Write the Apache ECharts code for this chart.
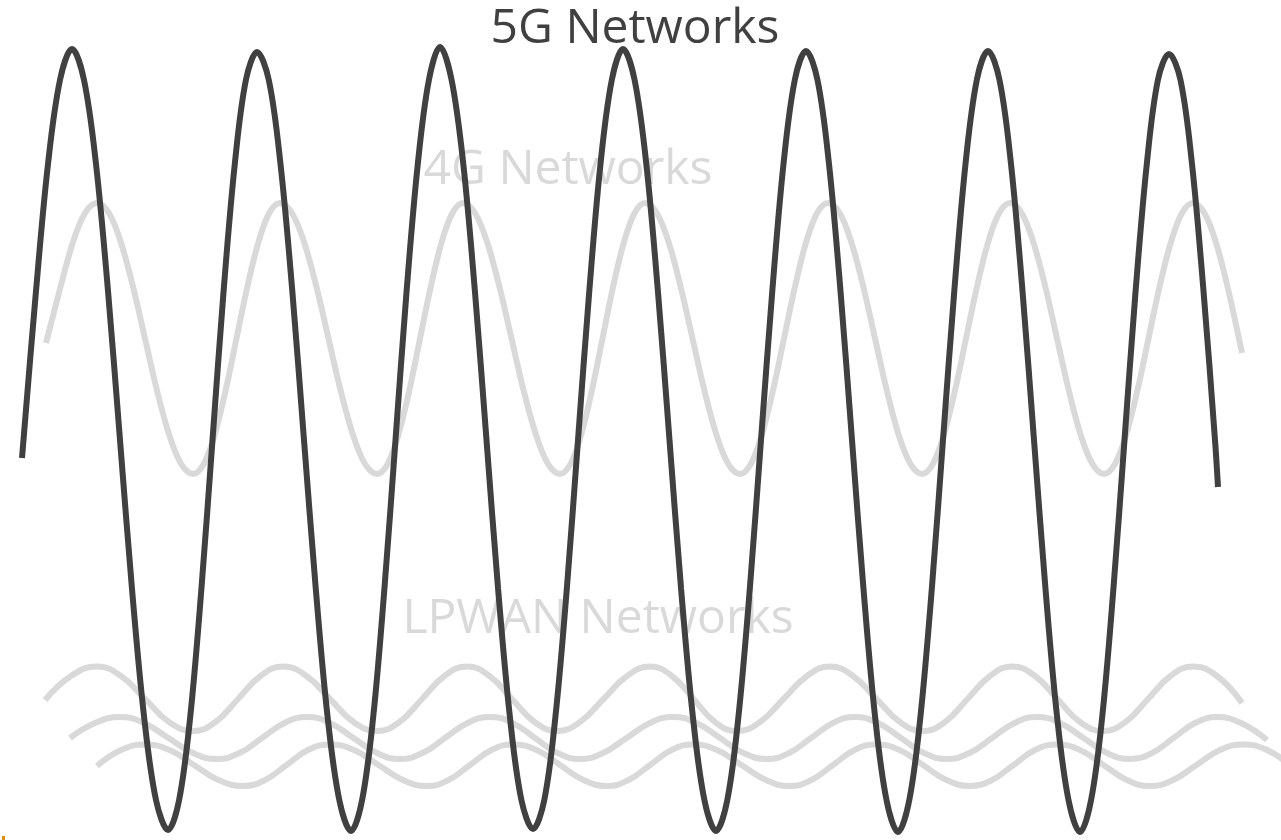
<!DOCTYPE html>
<html>
<head>
<meta charset="utf-8">
<script src="https://cdn.jsdelivr.net/npm/echarts@6/dist/echarts.min.js"></script>
<style>
  html, body { margin: 0; padding: 0; background: #ffffff; }
  #chart { width: 1281px; height: 840px; }
</style>
</head>
<body>
<div id="chart"></div>
<script>
// ---- Data (time units, signal level) ----
const labels = ['5G Networks', '4G Networks', 'LPWAN Networks'];

const time5G = [22, 36, 48, 60, 72,
  84, 96, 108, 120, 132, 144, 156, 168,
  179.1, 190.3, 201.4, 212.5, 223.6, 234.8, 245.9, 257,
  268.8, 280.5, 292.3, 304, 315.8, 327.5, 339.3, 351,
  362.1, 373.3, 384.4, 395.5, 406.6, 417.8, 428.9, 440,
  451.6, 463.3, 474.9, 486.5, 498.1, 509.8, 521.4, 533,
  544.3, 555.5, 566.8, 578, 589.3, 600.5, 611.8, 623,
  634.6, 646.3, 657.9, 669.5, 681.1, 692.8, 704.4, 716,
  727.3, 738.5, 749.8, 761, 772.3, 783.5, 794.8, 806,
  817.5, 829, 840.5, 852, 863.5, 875, 886.5, 898,
  909.3, 920.5, 931.8, 943, 954.3, 965.5, 976.8, 988,
  999.5, 1011, 1022.5, 1034, 1045.5, 1057, 1068.5, 1080,
  1091.1, 1102.3, 1113.4, 1124.5, 1135.6, 1146.8, 1157.9, 1169,
  1180.5, 1192, 1203.5, 1215, 1218];
const level5G = [-18, 149, 276, 360, 391,
  360, 276, 149, 0, -149, -276, -360, -390,
  -360, -276, -149, 0, 149, 276, 360, 388,
  360, 276, 149, 0, -149, -276, -360, -391,
  -360, -276, -149, 0, 149, 276, 360, 393,
  360, 276, 149, 0, -149, -276, -360, -389,
  -360, -276, -149, 0, 149, 276, 360, 391,
  360, 276, 149, 0, -149, -276, -360, -391,
  -360, -276, -149, 0, 149, 276, 360, 389,
  360, 276, 149, 0, -149, -276, -360, -392,
  -360, -276, -149, 0, 149, 276, 360, 389,
  360, 276, 149, 0, -149, -276, -360, -392,
  -360, -276, -149, 0, 149, 276, 360, 386,
  360, 276, 149, 0, -47];

const time4G = [46, 60.6, 72.8, 84.9, 97,
  109, 121, 133, 145, 157, 169, 181, 193,
  203.9, 214.8, 225.6, 236.5, 247.4, 258.3, 269.1, 280,
  292.1, 304.3, 316.4, 328.5, 340.6, 352.8, 364.9, 377,
  387.8, 398.5, 409.3, 420, 430.8, 441.5, 452.3, 463,
  475.1, 487.3, 499.4, 511.5, 523.6, 535.8, 547.9, 560,
  570.6, 581.3, 591.9, 602.5, 613.1, 623.8, 634.4, 645,
  656.9, 668.8, 680.6, 692.5, 704.4, 716.3, 728.1, 740,
  751, 762, 773, 784, 795, 806, 817, 828,
  839.8, 851.5, 863.3, 875, 886.8, 898.5, 910.3, 922,
  933, 944, 955, 966, 977, 988, 999, 1010,
  1021.8, 1033.5, 1045.3, 1057, 1068.8, 1080.5, 1092.3, 1104,
  1115.1, 1126.3, 1137.4, 1148.5, 1159.6, 1170.8, 1181.9, 1193,
  1204.5, 1216, 1227.5, 1239, 1242];
const level4G = [97, 153.4, 197.3, 226.7, 237,
  226.7, 197.3, 153.4, 101.5, 49.6, 5.7, -23.7, -34,
  -23.7, 5.7, 49.6, 101.5, 153.4, 197.3, 226.7, 237,
  226.7, 197.3, 153.4, 101.5, 49.6, 5.7, -23.7, -34,
  -23.7, 5.7, 49.6, 101.5, 153.4, 197.3, 226.7, 237,
  226.7, 197.3, 153.4, 101.5, 49.6, 5.7, -23.7, -34,
  -23.7, 5.7, 49.6, 101.5, 153.4, 197.3, 226.7, 237,
  226.7, 197.3, 153.4, 101.5, 49.6, 5.7, -23.7, -34,
  -23.7, 5.7, 49.6, 101.5, 153.4, 197.3, 226.7, 237,
  226.7, 197.3, 153.4, 101.5, 49.6, 5.7, -23.7, -34,
  -23.7, 5.7, 49.6, 101.5, 153.4, 197.3, 226.7, 237,
  226.7, 197.3, 153.4, 101.5, 49.6, 5.7, -23.7, -34,
  -23.7, 5.7, 49.6, 101.5, 153.4, 197.3, 226.7, 237,
  226.7, 197.3, 153.4, 101.5, 87];

const timeLpwanA = [45, 71, 97,
  121, 145, 169, 193,  215.5, 238, 260.5, 283,  306.5, 330, 353.5, 377,
  399.5, 422, 444.5, 467,  489.5, 512, 534.5, 557,  580, 603.5, 627, 650,
  672, 693.5, 715, 737,  760, 783.5, 807, 830,  853, 876.5, 900, 923,
  945, 967.5, 990, 1012,  1035, 1057.5, 1080, 1103,  1125.5, 1148, 1170.5, 1193,
  1217, 1242];
const levelLpwanA = [-260, -236, -226.5,
  -236, -259, -282, -291,  -282, -259, -236, -226.5,  -236, -259, -282, -291,
  -282, -259, -236, -226.5,  -236, -259, -282, -291,  -282, -259, -236, -226.5,
  -236, -259, -282, -291,  -282, -259, -236, -226.5,  -236, -259, -282, -291,
  -282, -259, -236, -226.5,  -236, -259, -282, -291,  -282, -259, -236, -226.5,
  -236, -263];

const timeLpwanB = [70, 95, 120,
  144, 168.5, 193, 217,  239.5, 262, 284.5, 307,  330, 353.5, 377, 400,
  422.5, 445, 467.5, 490,  512.5, 535, 557.5, 580,  603, 626.5, 650, 673,
  696.5, 720, 743.5, 767,  789, 811, 833, 855,  878, 901, 924, 947,
  969.5, 992, 1014.5, 1037,  1060, 1083.5, 1107, 1130,  1152, 1173.5, 1195, 1217,
  1241, 1267];
const levelLpwanB = [-298, -283, -277,
  -283, -298, -313, -319,  -313, -298, -283, -277,  -283, -298, -313, -319,
  -313, -298, -283, -277,  -283, -298, -313, -319,  -313, -298, -283, -277,
  -283, -298, -313, -319,  -313, -298, -283, -277,  -283, -298, -313, -319,
  -313, -298, -283, -277,  -283, -298, -313, -319,  -313, -298, -283, -277,
  -283, -300];

const timeLpwanC = [97, 121, 145,
  169.5, 194, 218.5, 243,  265, 286.5, 308, 330,  354, 378.5, 403, 427,
  448.5, 470, 491.5, 513,  536.5, 560, 583.5, 607,  628.5, 650, 671.5, 693,
  717, 741.5, 766, 790,  811.5, 833, 854.5, 876,  899.5, 923, 946.5, 970,
  992, 1013.5, 1035, 1057,  1080, 1103.5, 1127, 1150,  1173, 1196.5, 1220, 1243,
  1267, 1292];
const levelLpwanC = [-326, -310, -304.5,
  -310, -325, -340, -346,  -340, -325, -310, -304.5,  -310, -325, -340, -346,
  -340, -325, -310, -304.5,  -310, -325, -340, -346,  -340, -325, -310, -304.5,
  -310, -325, -340, -346,  -340, -325, -310, -304.5,  -310, -325, -340, -346,
  -340, -325, -310, -304.5,  -310, -325, -340, -346,  -340, -325, -310, -304.5,
  -310, -327];

// ---- Chart ----
const zip = (xs, ys) => xs.map((x, i) => [x, ys[i]]);
const DARK = '#404040';
const LIGHT = '#d9d9d9';
const FONT = '48px "Open Sans", "Noto Sans", sans-serif';

const chart = echarts.init(document.getElementById('chart'), null, { renderer: 'canvas' });

function lineSeries(name, data, color, z, smooth) {
  return {
    name: name,
    type: 'line',
    data: data,
    smooth: smooth,
    symbol: 'none',
    z: z,
    lineStyle: { color: color, width: 6, cap: 'butt' },
    emphasis: { disabled: true },
    silent: true
  };
}

chart.setOption({
  animation: false,
  backgroundColor: '#ffffff',
  grid: { left: 0, right: 0, top: 0, bottom: 0 },
  xAxis: { type: 'value', min: 0, max: 1281, show: false },
  yAxis: { type: 'value', min: -400, max: 440, show: false },
  graphic: [
    { type: 'text', z: 1, style: { text: labels[0], x: 635, y: 29, font: FONT, fill: DARK, textAlign: 'center', textVerticalAlign: 'middle' } },
    { type: 'text', z: 1, style: { text: labels[1], x: 568, y: 170, font: FONT, fill: LIGHT, textAlign: 'center', textVerticalAlign: 'middle' } },
    { type: 'text', z: 1, style: { text: labels[2], x: 598, y: 619, font: FONT, fill: LIGHT, textAlign: 'center', textVerticalAlign: 'middle' } },
    { type: 'rect', z: 1, shape: { x: 2, y: 836, width: 3, height: 4 }, style: { fill: '#e0900f' } }
  ],
  series: [
    lineSeries('LPWAN C', zip(timeLpwanC, levelLpwanC), LIGHT, 3, 0.45),
    lineSeries('LPWAN B', zip(timeLpwanB, levelLpwanB), LIGHT, 3, 0.45),
    lineSeries('LPWAN A', zip(timeLpwanA, levelLpwanA), LIGHT, 3, 0.45),
    lineSeries('4G', zip(time4G, level4G), LIGHT, 3, 0.35),
    lineSeries('5G', zip(time5G, level5G), DARK, 4, 0.35)
  ]
});
</script>
</body>
</html>
